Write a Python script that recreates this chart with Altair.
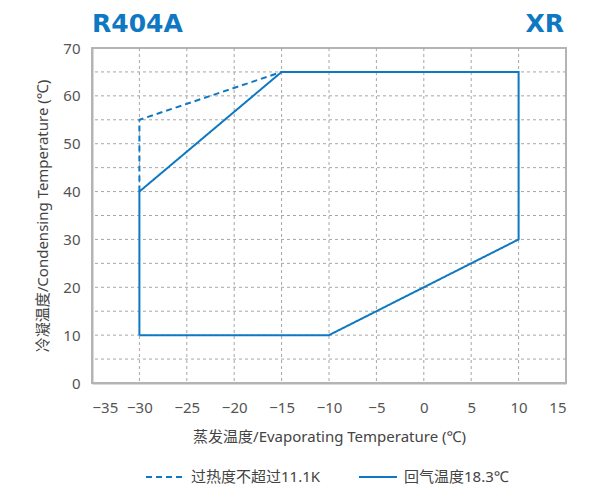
import altair as alt
import pandas as pd

# Data
solid_x = [-30, -10, 10, 10, -15, -30, -30]
solid_y = [10, 10, 30, 65, 65, 40, 10]
dashed_x = [-30, -30, -15]
dashed_y = [40, 55, 65]
series_names = ["过热度不超过11.1K", "回气温度18.3℃"]
title_left = "R404A"
title_right = "XR"
x_ticks = list(range(-35, 16, 5))
y_ticks = list(range(0, 71, 5))

rows = []
for i, (x, y) in enumerate(zip(dashed_x, dashed_y)):
    rows.append({"series": series_names[0], "x": x, "y": y, "order": i})
for i, (x, y) in enumerate(zip(solid_x, solid_y)):
    rows.append({"series": series_names[1], "x": x, "y": y, "order": i})
df = pd.DataFrame(rows)

BLUE = "#0f78c3"
FONT = "Noto Sans, Noto Sans CJK SC"
TFONT = "DejaVu Sans"
GRID = "#a6a6a6"

xscale = alt.Scale(domain=[-35, 15], nice=False)
yscale = alt.Scale(domain=[0, 70], nice=False)
x_axis = alt.Axis(values=x_ticks, title="蒸发温度/Evaporating Temperature (℃)",
                  grid=False, labelPadding=17, titlePadding=14)
y_axis = alt.Axis(values=y_ticks, title="冷凝温度/Condensing Temperature (℃)",
                  grid=False, labelExpr="datum.value % 10 == 0 ? datum.label : ''",
                  labelPadding=12, titlePadding=12)

vgrid = alt.Chart(pd.DataFrame({"x": x_ticks[1:-1]})).mark_rule(
    color=GRID, strokeWidth=1, strokeDash=[3, 3]
).encode(x=alt.X("x:Q", scale=xscale, axis=x_axis))

hgrid = alt.Chart(pd.DataFrame({"y": y_ticks[1:-1]})).mark_rule(
    color=GRID, strokeWidth=1, strokeDash=[3, 3]
).encode(y=alt.Y("y:Q", scale=yscale, axis=y_axis))

lines = alt.Chart(df).mark_line(strokeWidth=2).encode(
    x=alt.X("x:Q", scale=xscale, axis=x_axis),
    y=alt.Y("y:Q", scale=yscale, axis=y_axis),
    color=alt.Color("series:N", scale=alt.Scale(domain=series_names, range=[BLUE, BLUE]),
                    legend=alt.Legend(title=None)),
    strokeDash=alt.StrokeDash("series:N", scale=alt.Scale(domain=series_names, range=[[6, 4], [1, 0]]),
                              legend=alt.Legend(title=None)),
    order="order:Q",
)

tl = alt.Chart(alt.Data(values=[{"t": title_left}])).mark_text(
    align="left", baseline="alphabetic", fontSize=25, fontWeight="bold", color=BLUE, font=TFONT
).encode(text="t:N", x=alt.value(0), y=alt.value(-16))

tr = alt.Chart(alt.Data(values=[{"t": title_right}])).mark_text(
    align="right", baseline="alphabetic", fontSize=25, fontWeight="bold", color=BLUE, font=TFONT
).encode(text="t:N", x=alt.value(472), y=alt.value(-16))

chart = alt.layer(vgrid, hgrid, lines, tl, tr).properties(
    width=474, height=335,
    autosize=alt.AutoSizeParams(type="none"),
    padding={"left": 84, "top": 40, "right": 29, "bottom": 105},
).configure_view(
    stroke="#b4b4b4", strokeWidth=2
).configure_axis(
    ticks=False, domainColor="#b4b4b4", domainWidth=2,
    labelFont=FONT, labelFontSize=15, labelColor="#555555",
    titleFont=FONT, titleFontSize=15, titleColor="#444444", titleFontWeight="normal",
).configure_legend(
    orient="none", legendX=53, legendY=409, direction="horizontal", padding=0,
    labelFont=FONT, labelFontSize=15,
    labelColor="#444444", symbolType="stroke", symbolSize=1444, symbolStrokeWidth=2,
    columnPadding=34, labelOffset=6,
)

chart.save("out.html", embed_options={"renderer": "svg", "actions": False})
